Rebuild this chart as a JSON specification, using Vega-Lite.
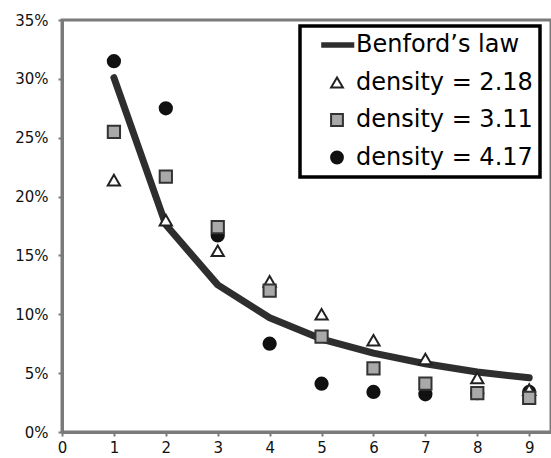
{
  "$schema": "https://vega.github.io/schema/vega-lite/v6.json",
  "autosize": {"type": "none"},
  "padding": {"left": 62, "top": 20, "right": 0, "bottom": 26},
  "width": 489,
  "height": 412,
  "background": "white",
  "config": {
    "font": "DejaVu Sans",
    "view": {"stroke": "#7a7a7a", "strokeWidth": 3},
    "axis": {
      "grid": false,
      "domainColor": "#7a7a7a",
      "domainWidth": 3,
      "tickColor": "#7a7a7a",
      "tickSize": 4,
      "tickWidth": 2,
      "labelFont": "DejaVu Sans",
      "labelFontSize": 15,
      "labelColor": "#111",
      "labelFlush": false,
      "title": null
    },
    "legend": {
      "orient": "none",
      "legendX": 238,
      "legendY": 6,
      "strokeColor": "#000",
      "strokeWidth": 3.5,
      "fillColor": "white",
      "padding": 7,
      "symbolOffset": 18,
      "symbolSize": 140,
      "symbolStrokeWidth": 2,
      "labelOffset": 7,
      "labelFont": "DejaVu Sans",
      "labelFontSize": 24,
      "labelColor": "#000",
      "labelLimit": 400,
      "rowPadding": 13.5
    }
  },
  "data": {
    "values": [
      {"series": "Benford’s law", "digit": 1, "value": 0.301},
      {"series": "Benford’s law", "digit": 2, "value": 0.176},
      {"series": "Benford’s law", "digit": 3, "value": 0.125},
      {"series": "Benford’s law", "digit": 4, "value": 0.097},
      {"series": "Benford’s law", "digit": 5, "value": 0.079},
      {"series": "Benford’s law", "digit": 6, "value": 0.067},
      {"series": "Benford’s law", "digit": 7, "value": 0.058},
      {"series": "Benford’s law", "digit": 8, "value": 0.051},
      {"series": "Benford’s law", "digit": 9, "value": 0.046},
      {"series": "density = 4.17", "digit": 1, "value": 0.315},
      {"series": "density = 4.17", "digit": 2, "value": 0.275},
      {"series": "density = 4.17", "digit": 3, "value": 0.167},
      {"series": "density = 4.17", "digit": 4, "value": 0.075},
      {"series": "density = 4.17", "digit": 5, "value": 0.041},
      {"series": "density = 4.17", "digit": 6, "value": 0.034},
      {"series": "density = 4.17", "digit": 7, "value": 0.032},
      {"series": "density = 4.17", "digit": 8, "value": 0.033},
      {"series": "density = 4.17", "digit": 9, "value": 0.034},
      {"series": "density = 2.18", "digit": 1, "value": 0.214},
      {"series": "density = 2.18", "digit": 2, "value": 0.180},
      {"series": "density = 2.18", "digit": 3, "value": 0.154},
      {"series": "density = 2.18", "digit": 4, "value": 0.128},
      {"series": "density = 2.18", "digit": 5, "value": 0.100},
      {"series": "density = 2.18", "digit": 6, "value": 0.078},
      {"series": "density = 2.18", "digit": 7, "value": 0.062},
      {"series": "density = 2.18", "digit": 8, "value": 0.046},
      {"series": "density = 2.18", "digit": 9, "value": 0.036},
      {"series": "density = 3.11", "digit": 1, "value": 0.255},
      {"series": "density = 3.11", "digit": 2, "value": 0.217},
      {"series": "density = 3.11", "digit": 3, "value": 0.174},
      {"series": "density = 3.11", "digit": 4, "value": 0.120},
      {"series": "density = 3.11", "digit": 5, "value": 0.081},
      {"series": "density = 3.11", "digit": 6, "value": 0.054},
      {"series": "density = 3.11", "digit": 7, "value": 0.041},
      {"series": "density = 3.11", "digit": 8, "value": 0.033},
      {"series": "density = 3.11", "digit": 9, "value": 0.029}
    ]
  },
  "encoding": {
    "x": {
      "field": "digit",
      "type": "quantitative",
      "scale": {"domain": [0, 9.42], "nice": false, "zero": false},
      "axis": {"values": [0, 1, 2, 3, 4, 5, 6, 7, 8, 9], "format": "d", "labelPadding": 4}
    },
    "y": {
      "field": "value",
      "type": "quantitative",
      "scale": {"domain": [0, 0.35], "nice": false},
      "axis": {"values": [0, 0.05, 0.1, 0.15, 0.2, 0.25, 0.3, 0.35], "format": ".0%", "labelPadding": 10}
    }
  },
  "layer": [
    {
      "transform": [{"filter": "datum.series === 'Benford’s law'"}],
      "mark": {"type": "line", "stroke": "#2e2e2e", "strokeWidth": 7, "strokeCap": "round", "strokeJoin": "round"},
      "encoding": {}
    },
    {
      "transform": [{"filter": "datum.series !== 'Benford’s law'"}],
      "mark": {"type": "point", "filled": true, "size": 150, "strokeWidth": 2, "opacity": 1},
      "encoding": {
        "shape": {
          "field": "series",
          "type": "nominal",
          "scale": {
            "domain": ["Benford’s law", "density = 2.18", "density = 3.11", "density = 4.17"],
            "range": ["M-2.5,-0.3L2.75,-0.3L2.75,0.3L-2.5,0.3Z", "triangle-up", "square", "circle"]
          },
          "legend": {"title": null, "labelExpr": "datum.label + '\u00a0\u00a0'"}
        },
        "fill": {
          "field": "series",
          "type": "nominal",
          "scale": {
            "domain": ["Benford’s law", "density = 2.18", "density = 3.11", "density = 4.17"],
            "range": ["#2e2e2e", "#ffffff", "#a9a9a9", "#111111"]
          },
          "legend": {"title": null, "labelExpr": "datum.label + '\u00a0\u00a0'"}
        },
        "stroke": {
          "field": "series",
          "type": "nominal",
          "scale": {
            "domain": ["Benford’s law", "density = 2.18", "density = 3.11", "density = 4.17"],
            "range": ["#2e2e2e", "#222222", "#333333", "#111111"]
          },
          "legend": {"title": null, "labelExpr": "datum.label + '\u00a0\u00a0'"}
        }
      }
    }
  ]
}
